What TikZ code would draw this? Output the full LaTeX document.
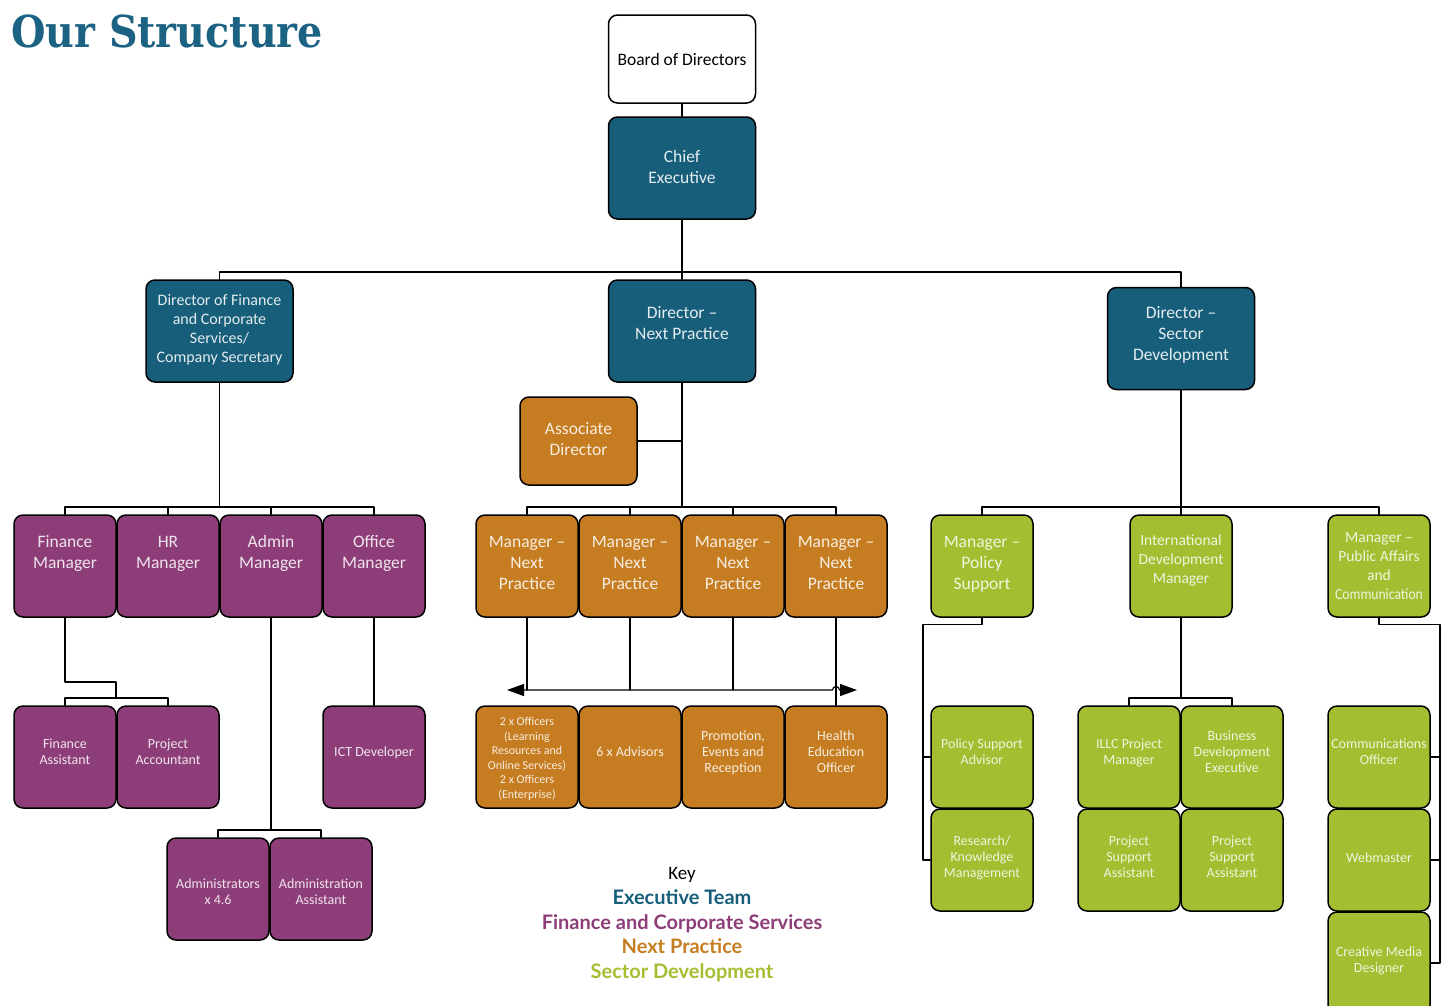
\documentclass[tikz,border=0pt]{standalone}
\usepackage{fontspec}
\setmainfont{Carlito}
\newfontfamily\keyfont{Lato}
\newfontfamily\titlefont{DejaVu Serif}
\usetikzlibrary{arrows.meta}
\definecolor{execblue}{HTML}{175E7B}
\definecolor{titleblue}{HTML}{1B6283}
\definecolor{finpurple}{HTML}{8D3D77}
\definecolor{nporange}{HTML}{C67D21}
\definecolor{sdgreen}{HTML}{A3BE30}
\newcommand\bt[1]{\begin{tabular}{@{}c@{}}#1\end{tabular}}
\begin{document}
\begin{tikzpicture}[x=1pt, y=-1pt, line join=round, line cap=round,
	unit/.style={draw=black, line width=1.5pt, rounded corners=9pt, minimum width=102pt, minimum height=102pt,
		inner sep=0pt, text height=0pt, text depth=0pt, font=\fontsize{17.5}{21}\selectfont},
	lift/.style={text depth=#1},
	drop/.style={text height=#1},
	mid/.style={font=\fontsize{15.5}{19}\selectfont},
	small/.style={font=\fontsize{14}{16}\selectfont},
	board/.style={unit, fill=white, text=black, minimum width=147pt, minimum height=88pt},
	exec/.style={unit, fill=execblue, text=white!88!execblue, minimum width=147pt},
	fin/.style={unit, fill=finpurple, text=white!86!finpurple},
	np/.style={unit, fill=nporange, text=white!86!nporange},
	sd/.style={unit, fill=sdgreen, text=white!84!sdgreen},
	link/.style={line width=1.2pt},
	keytxt/.style={font=\keyfont\bfseries\fontsize{20}{20}\selectfont, text height=14pt, text depth=4pt},
	bigtip/.tip={Triangle[length=17pt, width=12pt]}]
\useasboundingbox (0,0) rectangle (1448,1005);

\node[anchor=base west, inner sep=0pt, text=titleblue, xscale=.9, transform shape,
	font=\titlefont\bfseries\fontsize{44}{44}\selectfont] (title) at (11,47) {Our Structure};

% executive team
\node[board, drop=14pt] (bod) at (682,59) {\bt{Board of Directors}};
\node[exec, drop=10pt] (ce) at (682,168) {\bt{Chief\\Executive}};
\node[exec, drop=8pt, font=\fontsize{16}{19}\selectfont] (dfc) at (219.5,331) {\bt{Director of Finance\\and Corporate\\Services/\\Company Secretary}};
\node[exec, lift=4pt] (dnp) at (682,331) {\bt{Director --\\Next Practice}};
\node[exec, drop=3pt] (dsd) at (1181,338.5) {\bt{Director --\\Sector\\Development}};

% finance and corporate services
\node[fin, lift=16pt] (fm) at (65,566) {\bt{Finance\\Manager}};
\node[fin, lift=16pt] (hrm) at (168,566) {\bt{HR\\Manager}};
\node[fin, lift=16pt] (am) at (271,566) {\bt{Admin\\Manager}};
\node[fin, lift=16pt] (om) at (374,566) {\bt{Office\\Manager}};
\node[fin, small] (fa) at (65,757) {\bt{Finance\\Assistant}};
\node[fin, small] (pa) at (168,757) {\bt{Project\\Accountant}};
\node[fin, small] (ict) at (374,757) {\bt{ICT Developer}};
\node[fin, small, drop=16pt] (adm) at (218,889) {\bt{Administrators\\x 4.6}};
\node[fin, small, drop=16pt] (aas) at (321,889) {\bt{Administration\\Assistant}};

% next practice
\node[np, drop=8pt, minimum width=117pt, minimum height=88pt] (ad) at (578.5,441) {\bt{Associate\\Director}};
\node[np, drop=6pt] (mnp1) at (527,566) {\bt{Manager --\\Next\\Practice}};
\node[np, drop=6pt] (mnp2) at (630,566) {\bt{Manager --\\Next\\Practice}};
\node[np, drop=6pt] (mnp3) at (733,566) {\bt{Manager --\\Next\\Practice}};
\node[np, drop=6pt] (mnp4) at (836,566) {\bt{Manager --\\Next\\Practice}};
\node[np, drop=10pt, font=\fontsize{12}{14.5}\selectfont] (off) at (527,757) {\bt{2 x Officers\\(Learning\\Resources and\\Online Services)\\2 x Officers\\(Enterprise)}};
\node[np, small] (adv) at (630,757) {\bt{6 x Advisors}};
\node[np, small] (pev) at (733,757) {\bt{Promotion,\\Events and\\Reception}};
\node[np, small] (heo) at (836,757) {\bt{Health\\Education\\Officer}};

% sector development
\node[sd, drop=6pt] (mps) at (982,566) {\bt{Manager --\\Policy\\Support}};
\node[sd, mid, lift=4pt] (idm) at (1181,566) {\bt{International\\Development\\Manager}};
\node[sd, mid, drop=10pt] (mpa) at (1379,566) {\bt{Manager --\\Public Affairs\\and\\\scalebox{.88}[1]{Communication}}};
\node[sd, small] (psa) at (982,757) {\bt{Policy Support\\Advisor}};
\node[sd, small, drop=4pt] (rkm) at (982,860) {\bt{Research/\\Knowledge\\Management}};
\node[sd, small] (illc) at (1129,757) {\bt{ILLC Project\\Manager}};
\node[sd, small] (bde) at (1232,757) {\bt{Business\\Development\\Executive}};
\node[sd, small, drop=4pt] (psa1) at (1129,860) {\bt{Project\\Support\\Assistant}};
\node[sd, small, drop=4pt] (psa2) at (1232,860) {\bt{Project\\Support\\Assistant}};
\node[sd, small] (cof) at (1379,757) {\bt{Communications\\Officer}};
\node[sd, small, drop=5pt] (web) at (1379,860) {\bt{Webmaster}};
\node[sd, small, drop=3pt] (cmd) at (1379,963) {\bt{Creative Media\\Designer}};

% key
\node[font=\fontsize{19}{19}\selectfont] (key) at (682,875) {Key};
\node[keytxt, text=execblue] (kexec) at (682,899) {Executive Team};
\node[keytxt, text=finpurple] (kfin) at (682,924) {Finance and Corporate Services};
\node[keytxt, text=nporange] (knp) at (682,948) {Next Practice};
\node[keytxt, text=sdgreen] (ksd) at (682,973) {Sector Development};

% connectors
\path (682,272) coordinate (topbus)
	(219.5,507) coordinate (finbus)
	(682,507) coordinate (npbus)
	(1181,507) coordinate (sdbus)
	(116,682) coordinate (fmbend)
	(116,698) coordinate (fabus)
	(271,830) coordinate (admbus)
	(507,690) coordinate (al)
	(857,690) coordinate (ar)
	(832.5,690) coordinate (hop)
	(923,860) coordinate (psleg)
	(1181,698) coordinate (idbus)
	(1440,963) coordinate (paleg);
\begin{scope}[link]
\draw (bod) -- (ce);
\draw (ce) -- (dnp);
\draw (dfc.north) |- (topbus) -| (dsd.north);
\draw (dfc) -- (finbus);
\draw (fm.north) |- (finbus) -| (om.north);
\draw (hrm.north) -- (hrm.north |- finbus);
\draw (am.north) -- (am.north |- finbus);
\draw (fm.south) |- (fmbend) -- (fabus);
\draw (fa.north) |- (fabus) -| (pa.north);
\draw (am.south) -- (admbus);
\draw (adm.north) |- (admbus) -| (aas.north);
\draw (om) -- (ict);
\draw (dnp) -- (npbus);
\draw (ad.east) -- (ad.east -| dnp.south);
\draw (mnp1.north) |- (npbus) -| (mnp4.north);
\draw (mnp2.north) -- (mnp2.north |- npbus);
\draw (mnp3.north) -- (mnp3.north |- npbus);
\draw[bigtip-bigtip] (al) -- (hop) arc[start angle=180, end angle=360, radius=3.5] -- (ar);
\draw (mnp1.south) -- (mnp1.south |- al);
\draw (mnp2.south) -- (mnp2.south |- al);
\draw (mnp3.south) -- (mnp3.south |- al);
\draw (mnp4) -- (heo);
\draw (dsd) -- (sdbus);
\draw (mps.north) |- (sdbus) -| (mpa.north);
\draw (idm.north) -- (idm.north |- sdbus);
\draw (mps.south) -- ++(0,7) -| (psleg) -- (rkm.west);
\draw (psa.west) -- (psa.west -| psleg);
\draw (idm) -- (idbus);
\draw (illc.north) |- (idbus) -| (bde.north);
\draw (mpa.south) -- ++(0,7) -| (paleg) -- (cmd.east);
\draw (cof.east) -- (cof.east -| paleg);
\draw (web.east) -- (web.east -| paleg);
\end{scope}
\end{tikzpicture}
\end{document}
